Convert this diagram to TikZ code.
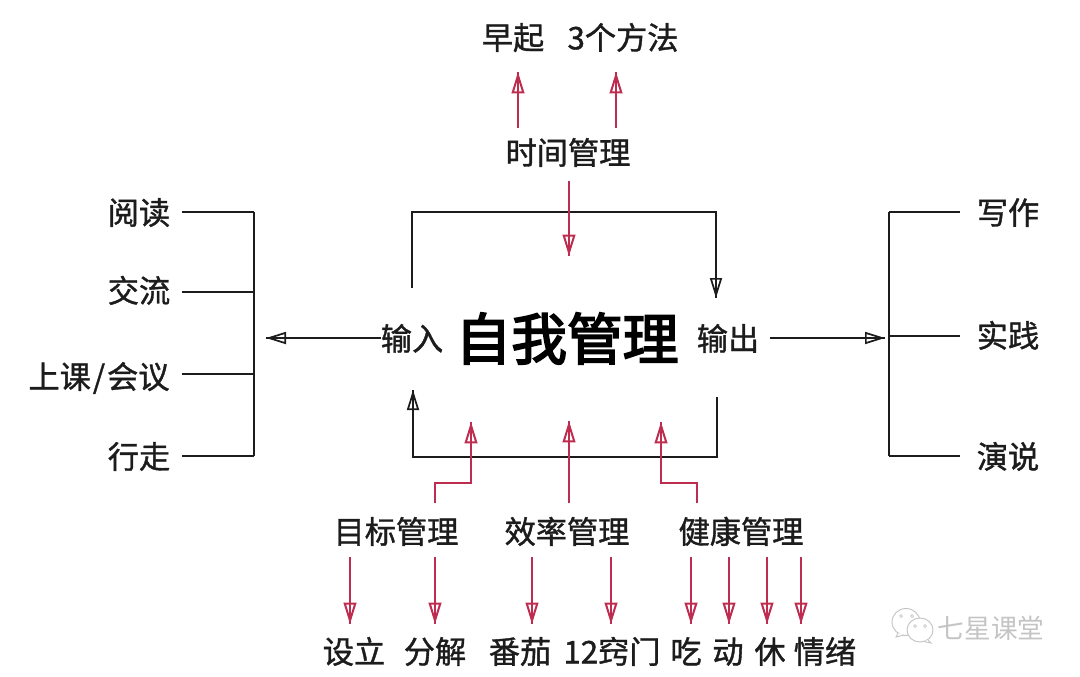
\documentclass[tikz,border=0pt]{standalone}
\usepackage{fontspec}
\setmainfont{Noto Sans CJK SC}
\newfontfamily\labfont[FakeBold=1.2]{Noto Sans CJK SC}
\newfontfamily\herofont[FakeBold=3.2]{Noto Sans CJK SC}
\usetikzlibrary{arrows.meta}
\definecolor{inkc}{HTML}{1C1C1C}
\definecolor{redc}{HTML}{BE2C50}
\definecolor{markc}{HTML}{C4C4C4}
\tikzset{
  lab/.style={inner sep=0pt,outer sep=0pt,text=inkc,font=\fontsize{23.4}{23.4}\labfont,text height=20pt,text depth=3pt},
  hero/.style={inner sep=0pt,outer sep=0pt,text=black,font=\fontsize{41.8}{41.8}\herofont,text height=36pt,text depth=5pt},
  wm/.style={inner sep=0pt,outer sep=0pt,text=markc,font=\fontsize{20}{20}\selectfont},
  blk/.style={draw=inkc,line width=1.6pt,line join=miter},
  rd/.style={draw=redc,line width=1.7pt,line join=miter},
  tip/.style={-{Stealth[open,length=16pt,width=9.5pt,inset=0pt,line width=1.5pt]},postaction={draw,arrows=-}},
  tipk/.style={-{Stealth[open,length=15pt,width=9pt,inset=0pt,line width=1.3pt]},postaction={draw,arrows=-}},
}
\begin{document}
\begin{tikzpicture}[x=0.75pt,y=-0.75pt]
\useasboundingbox (0,0) rectangle (1080,676);
% top
\node[lab] (zaoqi) at (513,38) {早起};
\node[lab] (fangfa) at (623,38) {3个方法};
\node[lab] (shijian) at (568,153) {时间管理};
% centre
\node[hero] (ziwo) at (567,339) {自我管理};
\node[lab] (shuru) at (412,339) {输入};
\node[lab] (shuchu) at (728,339) {输出};
% left
\node[lab] (yuedu) at (139,213) {阅读};
\node[lab] (jiaoliu) at (139,291) {交流};
\node[lab] (shangke) at (99,377) {上课\kern1.5pt/\kern1.5pt会议};
\node[lab] (xingzou) at (139,457) {行走};
\coordinate (lefttop) at (254,212);
\coordinate (leftbot) at (254,456);
\coordinate (leftb) at (254,292);
\coordinate (leftc) at (254,374);
% right
\node[lab] (xiezuo) at (1008,213) {写作};
\node[lab] (shijianr) at (1008,336) {实践};
\node[lab] (yanshuo) at (1008,457) {演说};
\coordinate (righttop) at (889,212);
\coordinate (rightmid) at (889,336);
\coordinate (rightbot) at (889,456);
% bottom row 1
\node[lab] (mubiao) at (396,532) {目标管理};
\node[lab] (xiaolv) at (567,532) {效率管理};
\node[lab] (jiankang) at (741,532) {健康管理};
% bottom row 2
\node[lab] (sheli) at (354,652) {设立};
\node[lab] (fenjie) at (435,652) {分解};
\node[lab] (fanqie) at (520,652) {番茄};
\node[lab] (qiaomen) at (612,652) {12窍门};
\node[lab] (chi) at (686,652) {吃};
\node[lab] (dong) at (728,652) {动};
\node[lab] (xiu) at (770,652) {休};
\node[lab] (qingxu) at (825,652) {情绪};
% black connectors
\draw[blk,tipk] ([shift={(-31,-1)}]shuru.center) -- (266,338);
\draw[blk,tipk] ([shift={(42,-1)}]shuchu.center) -- (885,338);
\draw[blk,tipk] ([shift={(0,-51)}]shuru.center) -- (412,212) -- (716,212) -- ([shift={(-12,-41)}]shuchu.center);
\draw[blk,tipk] ([shift={(-11,58)}]shuchu.center) -- (717,457) -- (413,457) -- ([shift={(1,51)}]shuru.center);
% list brackets
\draw[blk] ([shift={(43,-1)}]yuedu.center) -- (lefttop);
\draw[blk] ([shift={(43,1)}]jiaoliu.center) -- (leftb);
\draw[blk] ([shift={(83,-3)}]shangke.center) -- (leftc);
\draw[blk] ([shift={(43,-1)}]xingzou.center) -- (leftbot);
\draw[blk] (lefttop) -- (leftbot);
\draw[blk] ([shift={(-48,-1)}]xiezuo.center) -- (righttop);
\draw[blk] ([shift={(-48,0)}]shijianr.center) -- (rightmid);
\draw[blk] ([shift={(-48,-1)}]yanshuo.center) -- (rightbot);
\draw[blk] (righttop) -- (rightbot);
% red connectors, top
\draw[rd,tip] ([shift={(-50,-25)}]shijian.center) -- ([shift={(5,34)}]zaoqi.center);
\draw[rd,tip] ([shift={(48,-25)}]shijian.center) -- ([shift={(-7,34)}]fangfa.center);
\draw[rd,tip] ([shift={(1,28)}]shijian.center) -- (569,256);
% red connectors, up
\draw[rd,tip] ([shift={(39,-29)}]mubiao.center) -- (435,483) -- (471,483) -- (471,422);
\draw[rd,tip] ([shift={(2,-29)}]xiaolv.center) -- (569,421);
\draw[rd,tip] ([shift={(-44,-29)}]jiankang.center) -- (697,483) -- (661,483) -- (661,422);
% red connectors, down
\draw[rd,tip] ([shift={(-46,25)}]mubiao.center) -- ([shift={(-4,-28)}]sheli.center);
\draw[rd,tip] ([shift={(39,25)}]mubiao.center) -- ([shift={(0,-28)}]fenjie.center);
\draw[rd,tip] ([shift={(-35,25)}]xiaolv.center) -- ([shift={(12,-28)}]fanqie.center);
\draw[rd,tip] ([shift={(44,25)}]xiaolv.center) -- ([shift={(-1,-28)}]qiaomen.center);
\draw[rd,tip] ([shift={(-50,25)}]jiankang.center) -- ([shift={(5,-28)}]chi.center);
\draw[rd,tip] ([shift={(-12,25)}]jiankang.center) -- ([shift={(1,-28)}]dong.center);
\draw[rd,tip] ([shift={(26,25)}]jiankang.center) -- ([shift={(-3,-28)}]xiu.center);
\draw[rd,tip] ([shift={(60,25)}]jiankang.center) -- ([shift={(-24,-28)}]qingxu.center);
% watermark
\node[wm] (qixing) at (991,628) {七星课堂};
\draw[markc,line width=0.7pt,fill=white] (906,622) ellipse [x radius=14,y radius=13.5];
\draw[markc,line width=0.7pt,fill=white] (898,633) -- (896,637) -- (904,635);
\draw[markc,line width=0.7pt,fill=white] (920,630) ellipse [x radius=13,y radius=12];
\draw[markc,line width=0.7pt,fill=white] (928,640) -- (931,643) -- (924,641.5);
\foreach \p in {(901,616),(912,616),(915,626),(925,626)} \draw[markc,line width=0.5pt] \p circle [radius=1.5];
\end{tikzpicture}
\end{document}
